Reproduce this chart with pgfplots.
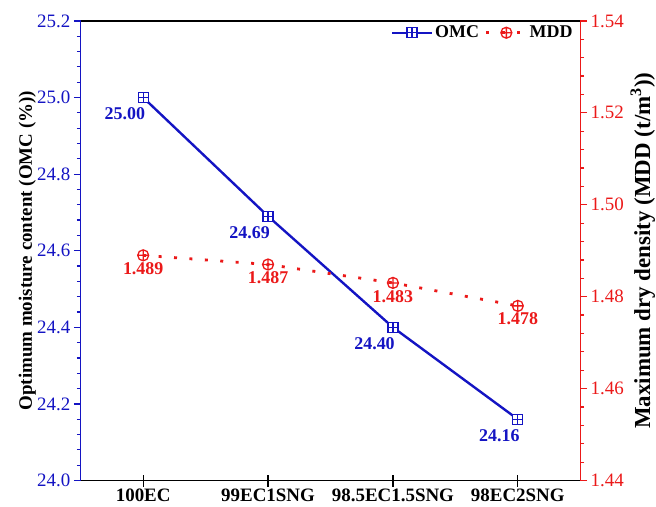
\documentclass[border=0pt]{standalone}
\usepackage{fontspec}
\setmainfont{Liberation Serif}
\usepackage{pgfplots}
\pgfplotsset{compat=1.18}
\usepackage{pgfplotstable}
\definecolor{omcblue}{RGB}{20,20,195}
\definecolor{mddred}{RGB}{235,25,25}

\pgfdeclareplotmark{boxplus}{%
  \pgfpathrectangle{\pgfpoint{-\pgfplotmarksize}{-\pgfplotmarksize}}{\pgfpoint{2\pgfplotmarksize}{2\pgfplotmarksize}}%
  \pgfusepathqfillstroke
  \pgfpathmoveto{\pgfpoint{-\pgfplotmarksize}{0pt}}\pgfpathlineto{\pgfpoint{\pgfplotmarksize}{0pt}}%
  \pgfpathmoveto{\pgfpoint{0pt}{-\pgfplotmarksize}}\pgfpathlineto{\pgfpoint{0pt}{\pgfplotmarksize}}%
  \pgfusepathqstroke}

\pgfplotstableread{
x y lab
0 25.00 25.00
1 24.69 24.69
2 24.40 24.40
3 24.16 24.16
}\omcdata
\pgfplotstableread{
x y lab
0 1.489 1.489
1 1.487 1.487
2 1.483 1.483
3 1.478 1.478
}\mdddata

\tikzset{lbl/.style={font=\bfseries\fontsize{18}{20}\selectfont, solid, inner sep=2pt}}
\pgfplotsset{
  omcstyle/.style={omcblue, line width=2.4pt, mark=boxplus, mark size=5pt, mark options={solid, fill=white, line width=1.3pt}},
  mddstyle/.style={mddred, line width=2.8pt, dash pattern=on 3pt off 12.5pt, mark=oplus, mark size=5.5pt, mark options={solid, fill=white, line width=1.3pt}},
  common/.style={
    width=501pt, height=461pt, scale only axis,
    xmin=-0.5, xmax=3.5,
    /pgf/number format/assume math mode=true,
    tick label style={font=\fontsize{19}{21}\selectfont},
    major tick length=7pt, minor tick length=4pt,
    axis line style={-},
  },
}

\begin{document}
\begin{tikzpicture}
% x axis (bottom)
\begin{axis}[common,
  axis y line=none, axis x line*=bottom,
  ymin=24.0, ymax=25.2,
  major tick length=12pt,
  xtick={0,1,2,3}, xticklabels={100EC,99EC1SNG,98.5EC1.5SNG,98EC2SNG},
  xticklabel style={font=\bfseries\fontsize{19}{21}\selectfont, text=black, inner sep=2pt},
  x axis line style={black, line width=1.4pt},
  xtick style={black, line width=1.2pt},
  xtick align=center,
]
\end{axis}
% left axis, OMC
\begin{axis}[common, name=ax,
  axis y line*=left, axis x line=none,
  ymin=24.0, ymax=25.2, ytick={24.0,24.2,...,25.21},
  yticklabel style={/pgf/number format/fixed, /pgf/number format/fixed zerofill, /pgf/number format/precision=1, text=omcblue},
  minor y tick num=4,
  y axis line style={omcblue, line width=1.4pt},
  ytick style={omcblue, line width=1.2pt},
  ytick align=outside,
  ylabel={Optimum moisture content (OMC (\%))},
  ylabel style={font=\bfseries\fontsize{19}{21}\selectfont, at={(axis description cs:0,0.5)}, anchor=base, yshift=49pt, inner sep=0pt},
]
\addplot[omcstyle] table[x=x, y=y] {\omcdata};
\addplot[draw=none, mark=none, nodes near coords, point meta=explicit symbolic,
  every node near coord/.append style={lbl, anchor=north east, xshift=4pt, yshift=-8pt, text=omcblue}
] table[x=x, y=y, meta=lab] {\omcdata};
\end{axis}
% right axis, MDD
\begin{axis}[common,
  axis y line*=right, axis x line*=top,
  xtick=\empty,
  ymin=1.44, ymax=1.54, ytick={1.44,1.46,...,1.541},
  yticklabel style={/pgf/number format/fixed, /pgf/number format/fixed zerofill, /pgf/number format/precision=2, text=mddred},
  minor y tick num=4,
  x axis line style={black, line width=1.4pt},
  y axis line style={mddred, line width=1.4pt},
  ytick style={mddred, line width=1.2pt},
  ytick align=outside,
  ylabel={Maximum dry density (MDD (t/m\textsuperscript{3}))},
  ylabel style={font=\bfseries\fontsize{23}{25}\selectfont, at={(axis description cs:1,0.5)}, anchor=base, yshift=-70pt, inner sep=0pt},
  legend style={draw=none, fill=none, legend columns=2, at={(0.995,0.998)}, anchor=north east,
    font=\bfseries\fontsize{18}{20}\selectfont,
    /tikz/every even column/.append style={column sep=4pt}},
  legend image code/.code={\draw[mark repeat=2, mark phase=2, #1] plot coordinates {(0pt,0pt) (20pt,0pt) (40pt,0pt)};},
]
\addlegendimage{omcstyle}
\addlegendentry{OMC}
\addplot[mddstyle] table[x=x, y=y] {\mdddata};
\addlegendentry{MDD}
\addplot[draw=none, mark=none, nodes near coords, point meta=explicit symbolic,
  every node near coord/.append style={lbl, anchor=north, yshift=-5pt, text=mddred}
] table[x=x, y=y, meta=lab] {\mdddata};
\end{axis}
\path (ax.south west) ++(-81pt,-26pt);
\path (ax.north east) ++(76pt,21pt);
\end{tikzpicture}
\end{document}
